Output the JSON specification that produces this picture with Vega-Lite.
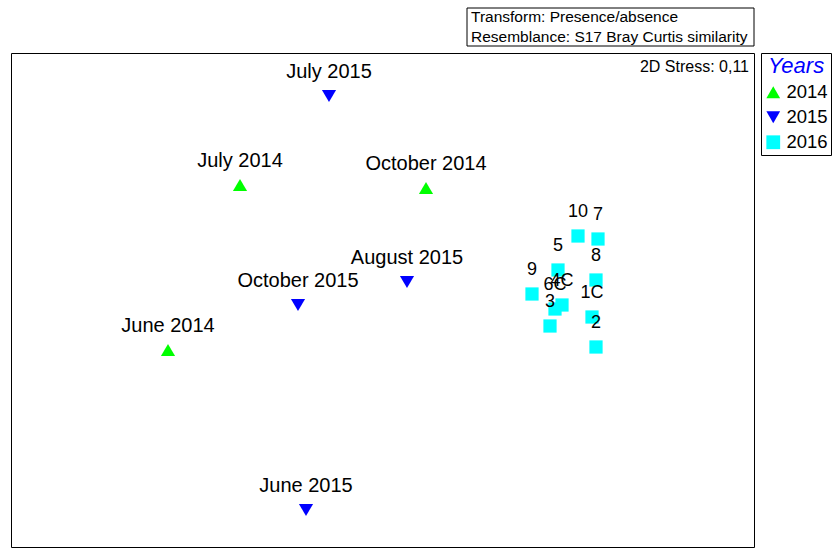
{
  "$schema": "https://vega.github.io/schema/vega-lite/v6.json",
  "autosize": {"type": "none"},
  "padding": {"left": 11, "top": 53, "right": 81, "bottom": 1},
  "width": 743,
  "height": 494,
  "background": "white",
  "config": {
    "view": {"stroke": "#000000", "strokeWidth": 1},
    "font": "Liberation Sans",
    "text": {"font": "Liberation Sans"},
    "legend": {
      "orient": "none",
      "legendX": 750,
      "legendY": 0,
      "strokeColor": "#000000",
      "fillColor": "white",
      "padding": 3,
      "titleFont": "Liberation Sans",
      "titleFontSize": 22,
      "titleFontStyle": "italic",
      "titleFontWeight": "normal",
      "titleColor": "#0000FF",
      "titleAnchor": "middle",
      "titlePadding": 5,
      "labelFont": "Liberation Sans",
      "labelFontSize": 18.5,
      "labelColor": "#000000",
      "symbolSize": 190,
      "symbolStrokeWidth": 0,
      "rowPadding": 6,
      "labelOffset": 4
    }
  },
  "datasets": {
    "samples": [
      {"Sample": "June 2014", "Year": "2014", "x": -2.14, "y": -0.50},
      {"Sample": "July 2014", "Year": "2014", "x": -1.42, "y": 1.15},
      {"Sample": "October 2014", "Year": "2014", "x": 0.44, "y": 1.12},
      {"Sample": "July 2015", "Year": "2015", "x": -0.53, "y": 2.04},
      {"Sample": "August 2015", "Year": "2015", "x": 0.25, "y": 0.18},
      {"Sample": "October 2015", "Year": "2015", "x": -0.84, "y": -0.05},
      {"Sample": "June 2015", "Year": "2015", "x": -0.76, "y": -2.10},
      {"Sample": "10", "Year": "2016", "x": 1.96, "y": 0.64},
      {"Sample": "7", "Year": "2016", "x": 2.16, "y": 0.61},
      {"Sample": "5", "Year": "2016", "x": 1.76, "y": 0.30},
      {"Sample": "8", "Year": "2016", "x": 2.14, "y": 0.20},
      {"Sample": "9", "Year": "2016", "x": 1.50, "y": 0.06},
      {"Sample": "6C", "Year": "2016", "x": 1.73, "y": -0.09},
      {"Sample": "4C", "Year": "2016", "x": 1.80, "y": -0.05},
      {"Sample": "3", "Year": "2016", "x": 1.68, "y": -0.26},
      {"Sample": "1C", "Year": "2016", "x": 2.10, "y": -0.17},
      {"Sample": "2", "Year": "2016", "x": 2.14, "y": -0.47}
    ],
    "note": [
      {"line": "Transform: Presence/absence", "x": 0.89, "y": 2.83, "x1": 0.85, "x2": 3.72, "y1": 2.92, "y2": 2.54},
      {"line": "Resemblance: S17 Bray Curtis similarity", "x": 0.89, "y": 2.63, "x1": 0.85, "x2": 3.72, "y1": 2.92, "y2": 2.54}
    ],
    "stress": [
      {"label": "2D Stress: 0,11", "x": 3.67, "y": 2.33}
    ]
  },
  "layer": [
    {
      "data": {"name": "samples"},
      "mark": {"type": "point", "filled": true, "opacity": 1},
      "encoding": {
        "x": {"field": "x", "type": "quantitative", "scale": {"domain": [-3.71, 3.72], "nice": false, "zero": false}, "axis": null},
        "y": {"field": "y", "type": "quantitative", "scale": {"domain": [-2.47, 2.47], "nice": false, "zero": false}, "axis": null},
        "shape": {"field": "Year", "type": "nominal", "scale": {"domain": ["2014", "2015", "2016"], "range": ["triangle-up", "triangle-down", "square"]}, "title": "Years"},
        "color": {"field": "Year", "type": "nominal", "scale": {"domain": ["2014", "2015", "2016"], "range": ["#00FF00", "#0000FF", "#00FFFF"]}, "title": "Years"},
        "size": {"condition": {"test": "datum.Year === '2016'", "value": 175}, "value": 200}
      }
    },
    {
      "data": {"name": "samples"},
      "mark": {"type": "text", "dy": -24, "color": "#000000", "align": "center", "baseline": "middle"},
      "encoding": {
        "x": {"field": "x", "type": "quantitative"},
        "y": {"field": "y", "type": "quantitative"},
        "text": {"field": "Sample"},
        "size": {"condition": {"test": "datum.Year === '2016'", "value": 18}, "value": 20}
      }
    },
    {
      "data": {"name": "stress"},
      "mark": {"type": "text", "fontSize": 16, "color": "#000000", "align": "right", "baseline": "middle"},
      "encoding": {
        "x": {"field": "x", "type": "quantitative"},
        "y": {"field": "y", "type": "quantitative"},
        "text": {"field": "label"}
      }
    },
    {
      "data": {"name": "note"},
      "transform": [{"filter": "datum.line === 'Transform: Presence/absence'"}],
      "mark": {"type": "rect", "fill": "white", "stroke": "#000000", "strokeWidth": 1},
      "encoding": {
        "x": {"field": "x1", "type": "quantitative"},
        "x2": {"field": "x2"},
        "y": {"field": "y1", "type": "quantitative"},
        "y2": {"field": "y2"}
      }
    },
    {
      "data": {"name": "note"},
      "mark": {"type": "text", "fontSize": 15.5, "color": "#000000", "align": "left", "baseline": "middle"},
      "encoding": {
        "x": {"field": "x", "type": "quantitative"},
        "y": {"field": "y", "type": "quantitative"},
        "text": {"field": "line"}
      }
    }
  ]
}
